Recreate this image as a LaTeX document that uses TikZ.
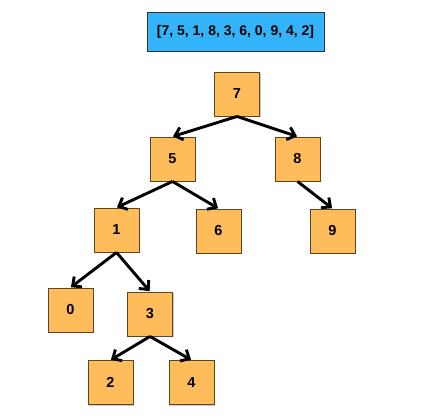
\documentclass[tikz,border=0pt]{standalone}
\usepackage{fontspec}
\setmainfont{Liberation Sans}
\usetikzlibrary{arrows.meta,shadows}
\definecolor{nodefill}{HTML}{FFBC5A}
\definecolor{nodeline}{HTML}{5C4520}
\definecolor{arrfill}{HTML}{33B4FA}
\definecolor{arrline}{HTML}{333333}
\tikzset{
  keybox/.style={draw=nodeline, line width=0.9pt, fill=nodefill,
    minimum width=45pt, minimum height=44pt, inner sep=0pt,
    font=\fontsize{14.5}{17}\selectfont\bfseries,
    drop shadow={shadow xshift=1.2pt, shadow yshift=-1.2pt, opacity=0.35, fill=black!60}},
  listbox/.style={draw=arrline, line width=0.9pt, fill=arrfill,
    minimum width=177pt, minimum height=39pt, inner sep=0pt,
    font=\fontsize{14}{17}\selectfont\bfseries},
  edge/.style={line width=2.9pt, -{Straight Barb[length=7pt, width=13pt, line width=2.9pt]}, shorten >=0.5pt}
}
\begin{document}
\begin{tikzpicture}[x=1pt, y=-1pt]
  \useasboundingbox (0,0) rectangle (425,419);
  \node[listbox] (arr) at (235.5,31.5) {[7, 5, 1, 8, 3, 6, 0, 9, 4, 2]};
  \node[keybox] (n7) at (237,94) {7};
  \node[keybox] (n5) at (172.5,159) {5};
  \node[keybox] (n8) at (297.5,159) {8};
  \node[keybox] (n1) at (116.5,230) {1};
  \node[keybox] (n6) at (218.5,231) {6};
  \node[keybox] (n9) at (332.5,231) {9};
  \node[keybox] (n0) at (70.5,310) {0};
  \node[keybox] (n3) at (150,314) {3};
  \node[keybox] (n2) at (110.5,382.5) {2};
  \node[keybox] (n4) at (191.5,382.5) {4};
  \draw[edge] (n7.south) -- (n5.north);
  \draw[edge] (n7.south) -- (n8.north);
  \draw[edge] (n5.south) -- (n1.north);
  \draw[edge] (n5.south) -- (n6.north);
  \draw[edge] (n8.south) -- (n9.north);
  \draw[edge] (n1.south) -- (n0.north);
  \draw[edge] (n1.south) -- (n3.north);
  \draw[edge] (n3.south) -- (n2.north);
  \draw[edge] (n3.south) -- (n4.north);
\end{tikzpicture}
\end{document}
